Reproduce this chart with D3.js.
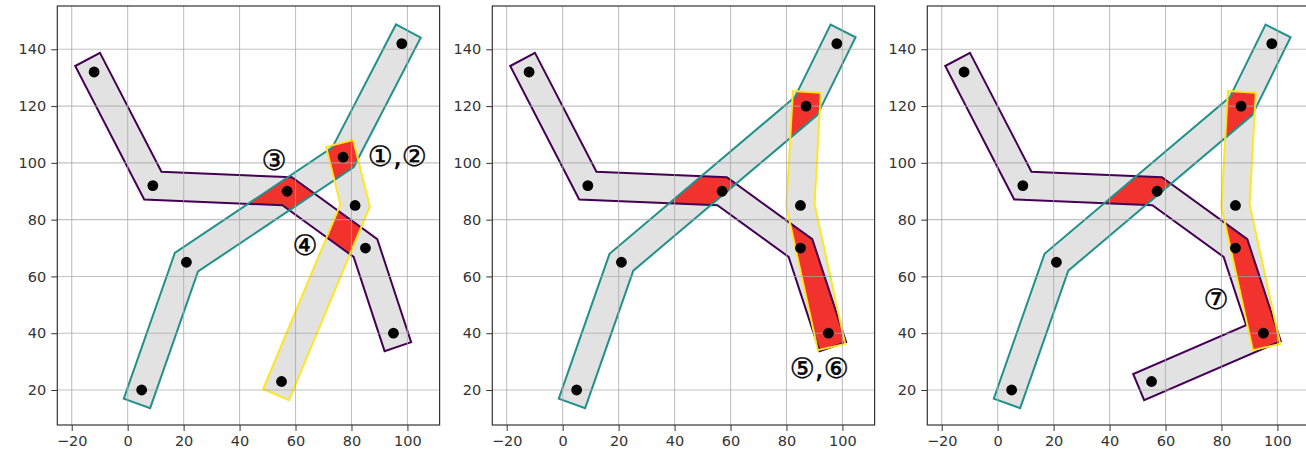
<!DOCTYPE html>
<html>
<head>
<meta charset="utf-8">
<script src="https://cdn.jsdelivr.net/npm/d3@7"></script>
<style>
  html, body { margin: 0; padding: 0; background: #fff; }
  svg { display: block; }
</style>
</head>
<body>
<svg id="chart" width="1306" height="462"></svg>
<script>
// ---------------- data ----------------
const xTicks = [-20, 0, 20, 40, 60, 80, 100];
const yTicks = [20, 40, 60, 80, 100, 120, 140];
const xDomain = [-25.15, 111.5];
const yDomain = [7.67, 155.25];
const bufferWidth = 5;

// panel 1
const purple1 = [[-12, 132], [9, 92], [57, 90], [85, 70], [95, 40]];
const teal1   = [[5, 20], [21, 65], [77, 102], [98, 142]];
const yellow1 = [[55, 23], [81.3, 85], [77, 102]];
// panel 2
const purple2 = [[-12, 132], [9, 92], [57, 90], [85, 70], [95, 40]];
const teal2   = [[5, 20], [21, 65], [87, 120], [98, 142]];
const yellow2 = [[87, 120], [85, 85], [95, 40]];
// panel 3
const purple3 = [[-12, 132], [9, 92], [57, 90], [85, 70], [95, 40], [55, 23]];
const teal3   = [[5, 20], [21, 65], [87, 120], [98, 142]];
const yellow3 = [[87, 120], [85, 85], [95, 40]];

// annotation labels [text, x, y]
const labels1 = [["③", 52.3, 100.8], ["①,②", 96.4, 102.2], ["④", 63.4, 70.8]];
const labels2 = [["⑤,⑥", 91.7, 27.6]];
const labels3 = [["⑦", 78.1, 51.9]];

const lineColors = { purple: "#440154", teal: "#21918c", yellow: "#fde725" };

const panels = [
  { lines: { purple: purple1, teal: teal1, yellow: yellow1 }, labels: labels1 },
  { lines: { purple: purple2, teal: teal2, yellow: yellow2 }, labels: labels2 },
  { lines: { purple: purple3, teal: teal3, yellow: yellow3 }, labels: labels3 }
];
const pairs = [["purple", "teal"], ["teal", "yellow"], ["purple", "yellow"]];

// ---------------- geometry: buffered polyline (square caps, mitre joins) ----------------
function intersect(a, u, b, v) {
  const cr = u[0] * v[1] - u[1] * v[0];
  if (Math.abs(cr) < 1e-9) return [b[0], b[1]];
  const t = ((b[0] - a[0]) * v[1] - (b[1] - a[1]) * v[0]) / cr;
  return [a[0] + t * u[0], a[1] + t * u[1]];
}
function bufferLine(pts, d) {
  const n = pts.length;
  const segs = [];
  for (let i = 0; i < n - 1; i++) {
    const dx = pts[i + 1][0] - pts[i][0], dy = pts[i + 1][1] - pts[i][1];
    const L = Math.hypot(dx, dy);
    const u = [dx / L, dy / L];
    segs.push({ u, nrm: [-u[1], u[0]] });
  }
  const start = [pts[0][0] - d * segs[0].u[0], pts[0][1] - d * segs[0].u[1]];
  const last = segs[segs.length - 1];
  const end = [pts[n - 1][0] + d * last.u[0], pts[n - 1][1] + d * last.u[1]];
  const sides = [1, -1].map(s => {
    const v = [];
    v.push([start[0] + s * d * segs[0].nrm[0], start[1] + s * d * segs[0].nrm[1]]);
    for (let j = 1; j < n - 1; j++) {
      const s0 = segs[j - 1], s1 = segs[j];
      const a = [pts[j][0] + s * d * s0.nrm[0], pts[j][1] + s * d * s0.nrm[1]];
      const b = [pts[j][0] + s * d * s1.nrm[0], pts[j][1] + s * d * s1.nrm[1]];
      v.push(intersect(a, s0.u, b, s1.u));
    }
    v.push([end[0] + s * d * last.nrm[0], end[1] + s * d * last.nrm[1]]);
    return v;
  });
  return sides[0].concat(sides[1].reverse());
}

// ---------------- drawing ----------------
const svg = d3.select("#chart");
const defs = svg.append("defs");
const lefts = [57.3, 492.3, 927.3];
const pw = 382.3, topY = 6, ph = 419;

panels.forEach((panel, pi) => {
  const x = d3.scaleLinear().domain(xDomain).range([lefts[pi], lefts[pi] + pw]);
  const y = d3.scaleLinear().domain(yDomain).range([topY + ph, topY]);
  const path = d3.line().x(d => x(d[0])).y(d => y(d[1]));

  defs.append("clipPath").attr("id", `area${pi}`)
    .append("rect").attr("x", lefts[pi]).attr("y", topY).attr("width", pw).attr("height", ph);

  const g = svg.append("g").attr("clip-path", `url(#area${pi})`);

  const polys = {};
  Object.entries(panel.lines).forEach(([name, pts]) => {
    polys[name] = bufferLine(pts, bufferWidth);
    defs.append("clipPath").attr("id", `clip${pi}${name}`)
      .append("path").attr("d", path(polys[name]) + "Z");
  });

  // gray fills
  Object.keys(polys).forEach(name => {
    g.append("path").attr("d", path(polys[name]) + "Z")
      .attr("fill", "#e2e2e2").attr("stroke", "none");
  });
  // red intersections
  pairs.forEach(([a, b]) => {
    g.append("g").attr("clip-path", `url(#clip${pi}${b})`)
      .append("path").attr("d", path(polys[a]) + "Z")
      .attr("fill", "#f2322c").attr("stroke", "none");
  });
  // outlines
  Object.keys(polys).forEach(name => {
    g.append("path").attr("d", path(polys[name]) + "Z")
      .attr("fill", "none").attr("stroke", lineColors[name])
      .attr("stroke-width", 2).attr("stroke-linejoin", "miter");
  });
  // grid
  g.append("g").selectAll("line").data(xTicks).join("line")
    .attr("x1", d => x(d)).attr("x2", d => x(d)).attr("y1", topY).attr("y2", topY + ph)
    .attr("stroke", "#a8a8a8").attr("stroke-opacity", 0.7).attr("stroke-width", 1.1);
  g.append("g").selectAll("line").data(yTicks).join("line")
    .attr("y1", d => y(d)).attr("y2", d => y(d)).attr("x1", lefts[pi]).attr("x2", lefts[pi] + pw)
    .attr("stroke", "#a8a8a8").attr("stroke-opacity", 0.7).attr("stroke-width", 1.1);
  // dots
  const keySet = new Map();
  Object.values(panel.lines).forEach(pts => pts.forEach(p => keySet.set(p.join(","), p)));
  g.append("g").selectAll("circle").data([...keySet.values()]).join("circle")
    .attr("cx", d => x(d[0])).attr("cy", d => y(d[1])).attr("r", 5.4).attr("fill", "#000");

  // labels
  svg.append("g").selectAll("text").data(panel.labels).join("text")
    .attr("x", d => x(d[1])).attr("y", d => y(d[2]))
    .attr("text-anchor", "middle").attr("dominant-baseline", "central")
    .attr("font-family", "DejaVu Sans").attr("font-size", 28).attr("fill", "#000")
    .attr("stroke", "#000").attr("stroke-width", 0.4)
    .text(d => d[0]);

  // axes
  const ax = svg.append("g").attr("transform", `translate(0,${topY + ph})`)
    .call(d3.axisBottom(x).tickValues(xTicks).tickSize(6).tickPadding(5)
      .tickFormat(d => d < 0 ? "\u2212" + Math.abs(d) : d));
  const ay = svg.append("g").attr("transform", `translate(${lefts[pi]},0)`)
    .call(d3.axisLeft(y).tickValues(yTicks).tickSize(6).tickPadding(5));
  [ax, ay].forEach(a => {
    a.select(".domain").remove();
    a.selectAll(".tick line").attr("stroke", "#333");
    a.selectAll("text").attr("font-family", "DejaVu Sans").attr("font-size", 14.5).attr("fill", "#333");
  });
  svg.append("rect").attr("x", lefts[pi]).attr("y", topY).attr("width", pw).attr("height", ph)
    .attr("fill", "none").attr("stroke", "#333").attr("stroke-width", 1.2);
});
</script>
</body>
</html>
